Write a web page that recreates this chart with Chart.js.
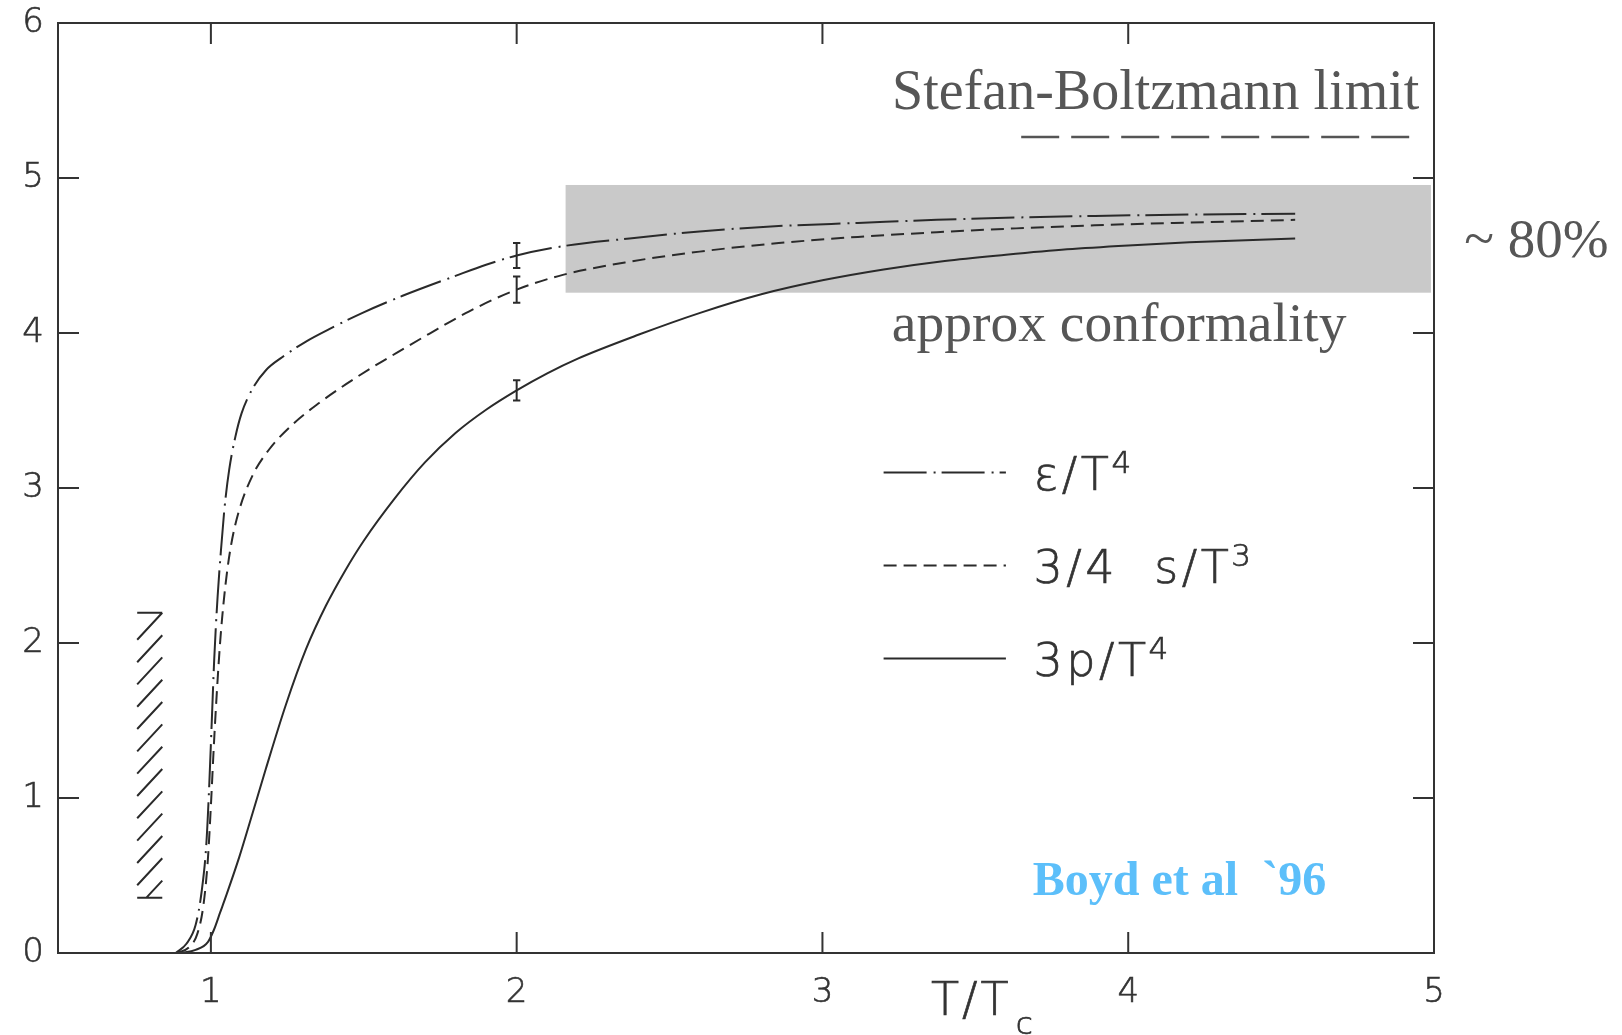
<!DOCTYPE html>
<html>
<head>
<meta charset="utf-8">
<script src="https://cdn.jsdelivr.net/npm/chart.js@4"></script>
<style>
  html, body { margin: 0; padding: 0; background: #fff; }
  canvas { display: block; }
</style>
</head>
<body>
<canvas id="eos" width="1622" height="1035"></canvas>
<script>
// epsilon/T^4
const energyT = [0.885, 0.92, 0.95, 0.97, 0.985, 0.995, 1.003, 1.011, 1.022, 1.033, 1.045, 1.06, 1.08, 1.10, 1.136, 1.18, 1.234, 1.311, 1.387, 1.496, 1.627, 1.802, 1.9, 2.0, 2.151, 2.369, 2.598, 2.857, 3.116, 3.374, 3.633, 3.891, 4.15, 4.546];
const energyV = [0.0, 0.06, 0.18, 0.4, 0.7, 1.1, 1.5, 1.9, 2.3, 2.6, 2.88, 3.12, 3.33, 3.48, 3.64, 3.76, 3.845, 3.945, 4.025, 4.13, 4.24, 4.37, 4.44, 4.50, 4.56, 4.61, 4.655, 4.69, 4.71, 4.73, 4.745, 4.755, 4.763, 4.77];

// 3/4 s/T^3
const entropyT = [0.89, 0.93, 0.955, 0.975, 0.99, 1.0, 1.01, 1.02, 1.032, 1.048, 1.065, 1.09, 1.136, 1.191, 1.267, 1.355, 1.442, 1.529, 1.606, 1.714, 1.845, 2.0, 2.151, 2.369, 2.598, 2.857, 3.116, 3.374, 3.633, 3.891, 4.15, 4.546];
const entropyV = [0.0, 0.04, 0.12, 0.3, 0.6, 0.95, 1.35, 1.7, 2.05, 2.38, 2.62, 2.84, 3.08, 3.25, 3.41, 3.55, 3.67, 3.78, 3.87, 3.995, 4.14, 4.28, 4.375, 4.46, 4.525, 4.58, 4.62, 4.65, 4.675, 4.695, 4.71, 4.73];

// 3p/T^4
const pressureT = [0.90, 0.95, 0.99, 1.01, 1.03, 1.05, 1.093, 1.136, 1.18, 1.245, 1.311, 1.376, 1.44, 1.5, 1.6, 1.7, 1.8, 1.9, 2.0, 2.1, 2.2, 2.4, 2.6, 2.8, 3.0, 3.2, 3.4, 3.6, 3.8, 4.0, 4.2, 4.546];
const pressureV = [0.0, 0.02, 0.07, 0.15, 0.26, 0.37, 0.62, 0.90, 1.19, 1.60, 1.96, 2.24, 2.47, 2.66, 2.93, 3.165, 3.355, 3.505, 3.63, 3.74, 3.835, 3.99, 4.13, 4.25, 4.34, 4.41, 4.465, 4.505, 4.54, 4.565, 4.585, 4.61];

// error bars at 2 Tc: energy, entropy, pressure
const errT = [2, 2, 2];
const errMid = [4.50, 4.28, 3.63];
const errHalf = [0.08, 0.085, 0.065];

// Stefan-Boltzmann value 8 pi^2 / 15
const sbLimit = 5.264;
const sbSpan = [3.65, 4.955];

// shaded ~80% band
const bandT = [2.16, 4.99];
const bandV = [4.26, 4.955];

// hatched latent heat column
const hatchRows = [2.195, 2.05, 1.907, 1.763, 1.619, 1.475, 1.331, 1.187, 1.043, 0.899, 0.755, 0.611, 0.467];
const hatchSpan = [0.759, 0.841];
const hatchCaps = [2.195, 0.357];
const hatchDrop = 0.174;

const xTicks = [1, 2, 3, 4, 5];
const yTicks = [0, 1, 2, 3, 4, 5, 6];

const INK = '#2a2a2a';
const LABEL = '#333';
const GREY_TEXT = '#565656';
const SANS = '"DejaVu Sans", "Liberation Sans", sans-serif';
const SERIF = '"Liberation Serif", "Times New Roman", serif';

const pairs = (ts, vs) => ts.map((t, i) => ({ x: t, y: vs[i] }));

// flatten [[x0,y0],[x1,y1]] pieces into one line with breaks
function segments(list) {
    const out = [];
    list.forEach(([a, b]) => {
        out.push({ x: a[0], y: a[1] }, { x: b[0], y: b[1] }, { x: b[0], y: null });
    });
    return out;
}

const hatchLines = [
    [[hatchSpan[0], hatchCaps[0]], [hatchSpan[1], hatchCaps[0]]],
    [[hatchSpan[0], hatchCaps[1]], [hatchSpan[1], hatchCaps[1]]]
];
hatchRows.forEach(r => {
    let x1 = hatchSpan[0], y1 = r - hatchDrop;
    if (y1 < hatchCaps[1]) {
        y1 = hatchCaps[1];
        x1 = hatchSpan[1] - (r - y1) / hatchDrop * (hatchSpan[1] - hatchSpan[0]);
    }
    hatchLines.push([[hatchSpan[1], r], [x1, y1]]);
});

const errLines = [];
errT.forEach((t, i) => {
    const lo = errMid[i] - errHalf[i], hi = errMid[i] + errHalf[i];
    errLines.push([[t, lo], [t, hi]]);
    errLines.push([[t - 0.012, lo], [t + 0.012, lo]]);
    errLines.push([[t - 0.012, hi], [t + 0.012, hi]]);
});

const layout = {
    legendRows: [3.1, 2.5, 1.9],
    legendLine: [3.2, 3.6],
    legendText: 3.69,
    tickLen: 21
};

// draws a run of text pieces with super/subscripts, lightly stroked
function rich(ctx, x, y, parts) {
    let cx = x;
    parts.forEach(p => {
        ctx.font = p.font;
        ctx.fillText(p.t, cx, y + (p.dy || 0));
        ctx.strokeText(p.t, cx, y + (p.dy || 0));
        cx += ctx.measureText(p.t).width + (p.gap || 0);
    });
}

const decor = {
    id: 'decor',
    beforeDatasetsDraw(chart) {
        const { ctx, scales: { x, y } } = chart;
        const l = x.getPixelForValue(bandT[0]), r = x.getPixelForValue(bandT[1]);
        const t = y.getPixelForValue(bandV[1]), b = y.getPixelForValue(bandV[0]);
        ctx.save();
        ctx.fillStyle = '#c9c9c9';
        ctx.fillRect(l, t, r - l, b - t);
        ctx.restore();
    },
    afterDatasetsDraw(chart) {
        const { ctx, chartArea: a, scales: { x, y } } = chart;
        const L = layout.tickLen;
        ctx.save();
        ctx.strokeStyle = '#333';
        ctx.lineWidth = 2;
        ctx.strokeRect(a.left, a.top, a.right - a.left, a.bottom - a.top);
        ctx.beginPath();
        xTicks.slice(0, -1).forEach(v => {
            const px = x.getPixelForValue(v);
            ctx.moveTo(px, a.bottom); ctx.lineTo(px, a.bottom - L);
            ctx.moveTo(px, a.top); ctx.lineTo(px, a.top + L);
        });
        yTicks.slice(1, -1).forEach(v => {
            const py = y.getPixelForValue(v);
            ctx.moveTo(a.left, py); ctx.lineTo(a.left + L, py);
            ctx.moveTo(a.right, py); ctx.lineTo(a.right - L, py);
        });
        ctx.stroke();
        ctx.restore();
    },
    afterDraw(chart) {
        const { ctx, scales: { x, y } } = chart;
        ctx.save();

        // legend
        const x0 = x.getPixelForValue(layout.legendLine[0]);
        const x1 = x.getPixelForValue(layout.legendLine[1]);
        const tx = x.getPixelForValue(layout.legendText);
        const big = '200 46px ' + SANS, small = '200 31px ' + SANS;
        const labels = [
            [{ t: 'ε/T', font: big, gap: -1 }, { t: '4', font: small, dy: -17 }],
            [{ t: '3/4  s/T', font: big, gap: -1 }, { t: '3', font: small, dy: -17 }],
            [{ t: '3p/T', font: big, gap: -1 }, { t: '4', font: small, dy: -17 }]
        ];
        labels.forEach((parts, i) => {
            const ds = chart.data.datasets[i];
            const py = y.getPixelForValue(layout.legendRows[i]);
            ctx.strokeStyle = ds.borderColor;
            ctx.lineWidth = ds.borderWidth;
            ctx.setLineDash(ds.borderDash || []);
            ctx.beginPath();
            ctx.moveTo(x0, py); ctx.lineTo(x1, py);
            ctx.stroke();
            ctx.setLineDash([]);
            ctx.fillStyle = LABEL;
            ctx.strokeStyle = LABEL;
            ctx.lineWidth = 0.7;
            ctx.letterSpacing = '3.5px';
            ctx.textAlign = 'left';
            ctx.textBaseline = 'alphabetic';
            rich(ctx, tx, py + 17, parts);
            ctx.letterSpacing = '0px';
        });

        // axis title
        ctx.fillStyle = LABEL;
        ctx.strokeStyle = LABEL;
        ctx.lineWidth = 0.7;
        ctx.letterSpacing = '3px';
        rich(ctx, x.getPixelForValue(3.355), y.getPixelForValue(-0.4), [
            { t: 'T/T', font: big, gap: 4 },
            { t: 'c', font: small, dy: 19 }
        ]);
        ctx.letterSpacing = '0px';

        // annotations
        ctx.fillStyle = GREY_TEXT;
        ctx.font = '56px ' + SERIF;
        ctx.textAlign = 'right';
        ctx.fillText('Stefan-Boltzmann limit', x.getPixelForValue(4.952), y.getPixelForValue(5.445));
        ctx.textAlign = 'left';
        ctx.font = '55.5px ' + SERIF;
        ctx.fillText('approx conformality', x.getPixelForValue(3.227), y.getPixelForValue(3.948));
        ctx.font = '55px ' + SERIF;
        ctx.fillText('~ 80%', x.getPixelForValue(5.099), y.getPixelForValue(4.49));

        ctx.fillStyle = '#5cbffa';
        ctx.font = 'bold 48px ' + SERIF;
        ctx.fillText('Boyd et al  `96', x.getPixelForValue(3.688), y.getPixelForValue(0.374));
        ctx.restore();
    }
};

const curve = (label, ts, vs, dash) => ({
    label,
    data: pairs(ts, vs),
    borderColor: INK,
    borderWidth: 2,
    borderDash: dash,
    pointRadius: 0,
    cubicInterpolationMode: 'monotone',
    fill: false
});

const pieces = (label, list, color, width) => ({
    label,
    data: segments(list),
    borderColor: color,
    borderWidth: width,
    pointRadius: 0,
    tension: 0,
    spanGaps: false,
    fill: false
});

const tickFont = { family: SANS, size: 34, weight: 200 };
const tickStyle = { color: LABEL, textStrokeColor: LABEL, textStrokeWidth: 0.6, font: tickFont };

new Chart(document.getElementById('eos'), {
    type: 'line',
    data: {
        datasets: [
            curve('ε/T4', energyT, energyV, [43, 7, 2, 6]),
            curve('3/4 s/T3', entropyT, entropyV, [13, 7]),
            curve('3p/T4', pressureT, pressureV, []),
            {
                label: 'SB',
                data: [{ x: sbSpan[0], y: sbLimit }, { x: sbSpan[1], y: sbLimit }],
                borderColor: '#555',
                borderWidth: 2.5,
                borderDash: [38, 12],
                pointRadius: 0
            },
            pieces('hatch', hatchLines, INK, 2),
            pieces('errors', errLines, INK, 2)
        ]
    },
    options: {
        responsive: false,
        animation: false,
        devicePixelRatio: 1,
        layout: { padding: { top: 23, right: 188, left: 0, bottom: 0 } },
        plugins: { legend: { display: false }, tooltip: { enabled: false } },
        scales: {
            x: {
                type: 'linear',
                min: 0.5,
                max: 5,
                afterBuildTicks: s => { s.ticks = xTicks.map(v => ({ value: v })); },
                afterFit: s => { s.height = 82; s.paddingLeft = 0; s.paddingRight = 0; },
                grid: { display: false, drawTicks: false },
                border: { display: false },
                ticks: Object.assign({ padding: 20 }, tickStyle)
            },
            y: {
                type: 'linear',
                min: 0,
                max: 6,
                afterBuildTicks: s => { s.ticks = yTicks.map(v => ({ value: v })); },
                afterFit: s => { s.width = 58; s.paddingTop = 0; s.paddingBottom = 0; },
                grid: { display: false, drawTicks: false },
                border: { display: false },
                ticks: Object.assign({ padding: 14 }, tickStyle)
            }
        }
    },
    plugins: [decor]
});
</script>
</body>
</html>
